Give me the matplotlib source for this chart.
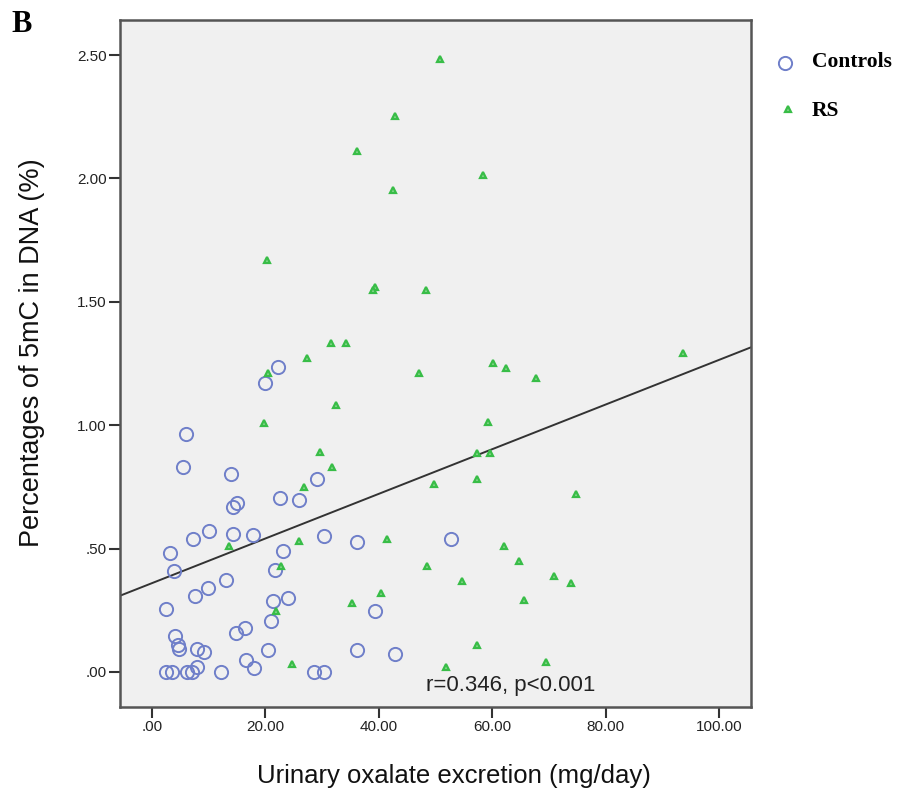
import matplotlib.pyplot as plt
import numpy as np

# urinary oxalate (mg/day) and 5mC (%) for each group
controls_x = [22.2, 19.9, 6.0, 5.5, 14.0, 14.9, 14.2, 22.5, 25.9, 29.1,
              10.1, 7.2, 14.2, 17.8, 30.3, 3.2, 3.8, 23.1, 21.7, 13.1,
              9.9, 7.6, 2.4, 21.3, 23.9, 20.9, 4.1, 4.6, 4.8, 14.8,
              16.4, 7.9, 9.1, 20.4, 16.6, 18.0, 7.9, 2.5, 3.5, 6.1,
              7.0, 12.2, 28.5, 30.3, 36.2, 52.7, 39.3, 36.2, 42.8]
controls_y = [1.237, 1.170, 0.964, 0.829, 0.802, 0.686, 0.667, 0.704, 0.698, 0.781,
              0.571, 0.539, 0.559, 0.555, 0.551, 0.483, 0.408, 0.492, 0.413, 0.374,
              0.342, 0.308, 0.257, 0.289, 0.301, 0.208, 0.147, 0.109, 0.093, 0.157,
              0.180, 0.092, 0.082, 0.088, 0.049, 0.016, 0.022, 0.0, 0.0, 0.0,
              0.0, 0.0, 0.0, 0.0, 0.528, 0.540, 0.247, 0.089, 0.073]

rs_x = [31.6, 27.3, 20.5, 32.5, 19.8, 29.6, 31.8, 26.8, 13.5, 26.0,
        22.8, 21.9, 24.7, 50.7, 42.9, 36.2, 58.3, 42.4, 20.3, 39.3,
        38.9, 48.3, 34.2, 60.2, 62.4, 47.1, 67.7, 59.2, 57.3, 59.6,
        49.8, 57.3, 74.8, 41.5, 62.0, 64.7, 48.4, 70.9, 73.8, 54.6,
        40.3, 35.3, 65.6, 57.3, 51.8, 69.5, 93.6]
rs_y = [1.332, 1.271, 1.210, 1.081, 1.010, 0.890, 0.831, 0.750, 0.511, 0.531,
        0.430, 0.248, 0.031, 2.482, 2.253, 2.111, 2.012, 1.953, 1.671, 1.560,
        1.549, 1.549, 1.333, 1.253, 1.230, 1.213, 1.190, 1.012, 0.889, 0.889,
        0.760, 0.781, 0.721, 0.539, 0.509, 0.451, 0.430, 0.389, 0.359, 0.370,
        0.319, 0.278, 0.292, 0.109, 0.019, 0.039, 1.291]

x_ticks = [0, 20, 40, 60, 80, 100]
x_tick_labels = ['.00', '20.00', '40.00', '60.00', '80.00', '100.00']
y_ticks = [0, 0.5, 1.0, 1.5, 2.0, 2.5]
y_tick_labels = ['.00', '.50', '1.00', '1.50', '2.00', '2.50']

plt.rcParams['font.family'] = ['Liberation Sans', 'DejaVu Sans']

circ_style = dict(marker='o', markersize=9.5, markerfacecolor='none',
                  markeredgecolor='#6f7fc9', markeredgewidth=1.4, linestyle='none')
tri_style = dict(marker='^', markersize=4.8, markerfacecolor='#8ad68f',
                 markeredgecolor='#38bd47', markeredgewidth=1.6, linestyle='none')

fig = plt.figure(figsize=(8.99, 7.96), dpi=100)
ax = fig.add_axes([0.1335, 0.1118, 0.7019, 0.8631])
ax.set_facecolor('#f0f0f0')

ax.plot(controls_x, controls_y, zorder=3, **circ_style)
ax.plot(rs_x, rs_y, zorder=3, **tri_style)

# linear fit over all subjects
all_x = np.array(controls_x + rs_x)
all_y = np.array(controls_y + rs_y)
slope, intercept = np.polyfit(all_x, all_y, 1)
xlim = (-5.64, 105.6)
line_x = np.array(xlim)
ax.plot(line_x, intercept + slope * line_x, color='#333333', linewidth=1.4, zorder=2)

ax.set_xlim(*xlim)
ax.set_ylim(-0.142, 2.642)
ax.set_xticks(x_ticks)
ax.set_xticklabels(x_tick_labels)
ax.set_yticks(y_ticks)
ax.set_yticklabels(y_tick_labels)
ax.tick_params(direction='out', length=8, width=1.5, color='#333333',
               labelsize=11, labelcolor='#222222', pad=1.5)
for s in ax.spines.values():
    s.set_color('#555555')
    s.set_linewidth(1.8)

fig.text(454 / 899, 1 - 776 / 796, 'Urinary oxalate excretion (mg/day)',
         fontsize=18.5, color='#111111', ha='center', va='center')
fig.text(32 / 899, 1 - 353 / 796, 'Percentages of 5mC in DNA (%)',
         fontsize=19.5, color='#111111', rotation=90, ha='center', va='center')

ax.text(0.6197, 0.0306, 'r=0.346, p<0.001', transform=ax.transAxes, fontsize=16,
        color='#222222', ha='center', va='center')

fig.text(22 / 899, 1 - 24 / 796, 'B', fontsize=22, fontweight='bold',
         family='Liberation Serif', va='center', ha='center')

# legend drawn beside the plot box
fig.lines.append(plt.Line2D([785 / 899], [1 - 63 / 796], transform=fig.transFigure,
                            **circ_style))
fig.lines.append(plt.Line2D([788 / 899], [1 - 109 / 796], transform=fig.transFigure,
                            **tri_style))
fig.text(812 / 899, 1 - 62 / 796, 'Controls', fontsize=15.5, fontweight='bold',
         family='Liberation Serif', va='center', ha='left')
fig.text(812 / 899, 1 - 111 / 796, 'RS', fontsize=15.5, fontweight='bold',
         family='Liberation Serif', va='center', ha='left')

fig.savefig('out.png', dpi=100)
